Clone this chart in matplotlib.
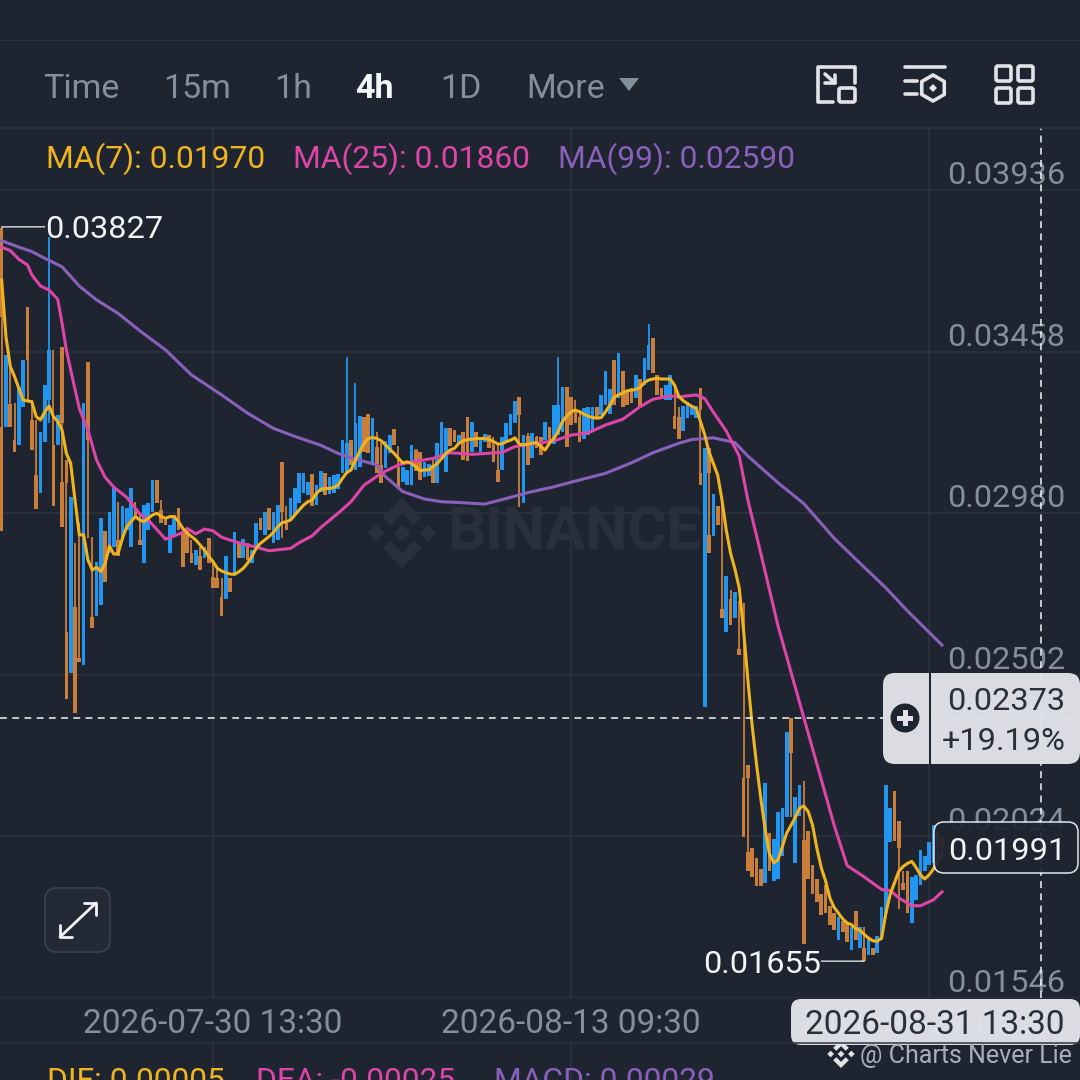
import numpy as np
import matplotlib
matplotlib.use('Agg')
import matplotlib.pyplot as plt
from matplotlib.patches import FancyBboxPatch, Polygon, Circle, Rectangle
from matplotlib.lines import Line2D

plt.rcParams['font.family'] = ['Roboto', 'DejaVu Sans']

candle_idx = [0, 0] + list(range(1, 15)) + [14, 15] + list(range(15, 163)) + [162] + [163, 164] + [164] \
    + list(range(165, 174)) + [173] + list(range(174, 219))

opens = [
    3823, 3236, 3236, 3302, 3197, 3182, 3295, 3589, 3256, 3093, 3039, 3192, 3315, 3182, 3182, 3471, 3073, 3137, 2630,
    2506, 2704, 2551, 2531, 3428, 2674, 2676, 2709, 2926, 2861, 2881, 2901, 2901, 2930, 2881, 2990, 2901, 2832, 2930,
    2985, 3078, 2990, 2960, 2863, 2911, 2995, 2926, 2926, 2861, 2827, 2852, 2847, 2906, 2792, 2787, 2733, 2725, 2787,
    2797, 2891, 2847, 2893, 2832, 2876, 2965, 2916, 2995, 2891, 2901, 3131, 2950, 2960, 2975, 3009, 3039, 3034, 3096,
    3004, 3044, 3100, 3036, 3039, 3051, 3098, 3098, 3198, 3108, 3118, 3265, 3272, 3127, 3177, 3123, 3113, 3157, 3228,
    3118, 3073, 3063, 3063, 3167, 3162, 3086, 3090, 3123, 3070, 3152, 3103, 3231, 3226, 3189, 3221, 3265, 3162, 3221,
    3162, 3192, 3211, 3182, 3108, 3108, 3187, 3211, 3246, 3323, 3011, 3208, 3142, 3206, 3206, 3196, 3236, 3184, 3211,
    3221, 3354, 3325, 3285, 3265, 3201, 3211, 3221, 3295, 3270, 3300, 3273, 3433, 3320, 3402, 3344, 3349, 3320, 3376,
    3359, 3403, 3497, 3389, 3349, 3315, 3315, 3267, 3265, 3223, 3262, 3270, 3262, 3350, 3098, 2408, 3172, 2917, 2912,
    3002, 2697, 2629, 2725, 2670, 2578, 2198, 2236, 1978, 1989, 1961, 1927, 1887, 2034, 1893, 1898, 1966, 2080, 2373,
    1944, 2085, 2012, 2040, 1938, 1898, 1855, 1881, 1817, 1797, 1717, 1774, 1768, 1689, 1802, 1695, 1695, 1672, 1695,
    1678, 1717, 1797, 2006, 2159, 2070, 1887, 1921, 1768, 1836, 1881, 1921, 1938, 1944, 2037, 2020,
]
highs = [
    3827, 3236, 3448, 3414, 3305, 3354, 3433, 3589, 3315, 3256, 3221, 3359, 3798, 3463, 3271, 3471, 3246, 3137, 3068,
    3029, 2891, 2950, 3305, 3428, 2911, 2837, 2965, 2926, 2985, 3054, 3014, 3000, 2995, 3054, 3014, 2980, 3004, 3009,
    3078, 3078, 3019, 2965, 2945, 2975, 2995, 2930, 2935, 2901, 2871, 2881, 2881, 2906, 2842, 2817, 2787, 2852, 2787,
    2923, 2891, 2903, 2893, 2871, 2950, 2965, 2985, 2995, 2985, 3004, 3131, 3000, 3024, 3054, 3098, 3098, 3073, 3096,
    3064, 3105, 3100, 3088, 3093, 3095, 3198, 3443, 3198, 3364, 3267, 3265, 3272, 3263, 3221, 3187, 3194, 3211, 3228,
    3179, 3118, 3108, 3182, 3169, 3162, 3132, 3127, 3137, 3187, 3251, 3231, 3231, 3226, 3211, 3221, 3265, 3249, 3221,
    3201, 3214, 3211, 3206, 3187, 3204, 3246, 3273, 3313, 3323, 3211, 3218, 3218, 3208, 3206, 3251, 3236, 3300, 3441,
    3354, 3354, 3325, 3315, 3285, 3290, 3295, 3293, 3295, 3330, 3402, 3346, 3433, 3453, 3402, 3344, 3349, 3389, 3376,
    3438, 3540, 3497, 3389, 3349, 3359, 3389, 3359, 3295, 3296, 3308, 3296, 3296, 3350, 3285, 3172, 3172, 3098, 3036,
    3002, 3025, 2793, 2753, 2747, 2719, 2713, 2236, 2198, 1989, 1961, 1927, 2181, 2034, 2017, 2097, 2108, 2334, 2373,
    2142, 2176, 2187, 2040, 1938, 1898, 1855, 1881, 1817, 1797, 1785, 1774, 1768, 1757, 1802, 1757, 1757, 1723, 1695,
    1729, 1814, 2176, 2108, 2159, 2070, 1921, 1921, 1904, 1910, 1983, 1966, 2006, 2057, 2037, 2020,
]
lows = [
    3236, 2926, 3236, 3236, 3162, 3182, 3295, 3315, 3167, 2992, 3039, 3192, 3246, 3000, 3182, 3246, 2940, 3068, 2430,
    2506, 2388, 2541, 2531, 2906, 2640, 2676, 2709, 2778, 2861, 2881, 2852, 2901, 2930, 2881, 2965, 2886, 2832, 2930,
    2985, 3009, 2950, 2945, 2863, 2911, 2930, 2820, 2861, 2832, 2827, 2812, 2847, 2832, 2758, 2760, 2676, 2725, 2748,
    2797, 2847, 2847, 2842, 2832, 2876, 2930, 2916, 2930, 2891, 2901, 2906, 2930, 2960, 2975, 3009, 3039, 3034, 3000,
    3004, 3044, 3034, 3036, 3039, 3051, 3098, 3098, 3123, 3108, 3118, 3162, 3157, 3127, 3098, 3070, 3113, 3157, 3182,
    3053, 3073, 3063, 3063, 3106, 3078, 3086, 3090, 3070, 3070, 3152, 3103, 3179, 3192, 3189, 3137, 3135, 3162, 3175,
    3162, 3192, 3172, 3132, 3073, 3108, 3187, 3211, 3246, 2999, 3011, 3123, 3142, 3172, 3152, 3196, 3192, 3184, 3211,
    3221, 3177, 3241, 3246, 3192, 3201, 3211, 3221, 3265, 3270, 3300, 3273, 3300, 3320, 3295, 3300, 3305, 3320, 3295,
    3359, 3403, 3394, 3330, 3325, 3315, 3315, 3228, 3201, 3223, 3262, 3270, 3262, 3285, 3064, 2408, 3098, 2863, 2912,
    2946, 2670, 2629, 2648, 2670, 2561, 2023, 2198, 1923, 1904, 1876, 1876, 1887, 1921, 1893, 1898, 1966, 2080, 2080,
    1944, 2085, 1706, 1898, 1853, 1831, 1791, 1797, 1763, 1746, 1717, 1740, 1712, 1689, 1717, 1695, 1655, 1672, 1672,
    1678, 1717, 1797, 2006, 2009, 1808, 1864, 1797, 1768, 1836, 1881, 1921, 1938, 1944, 1950, 1950,
]
closes = [
    3561, 2926, 3448, 3236, 3162, 3354, 3433, 3433, 3167, 2992, 3221, 3359, 3463, 3000, 3271, 3246, 2940, 3068, 2430,
    3029, 2388, 2541, 3305, 3197, 2640, 2837, 2965, 2778, 2985, 3054, 2852, 3000, 2995, 3054, 2965, 2886, 3004, 3009,
    3078, 3009, 2950, 2945, 2945, 2975, 2930, 2820, 2861, 2832, 2871, 2812, 2881, 2832, 2758, 2760, 2676, 2852, 2748,
    2923, 2847, 2903, 2842, 2871, 2950, 2930, 2985, 2930, 2985, 3004, 2985, 2930, 3024, 3054, 3098, 3098, 3073, 3000,
    3064, 3105, 3034, 3088, 3093, 3095, 3198, 3187, 3123, 3246, 3267, 3162, 3157, 3263, 3098, 3070, 3194, 3211, 3182,
    3053, 3118, 3108, 3182, 3106, 3078, 3132, 3127, 3070, 3187, 3251, 3231, 3179, 3192, 3211, 3137, 3135, 3249, 3175,
    3201, 3214, 3172, 3132, 3073, 3204, 3246, 3273, 3313, 3270, 3211, 3123, 3218, 3172, 3152, 3251, 3192, 3300, 3300,
    3354, 3177, 3241, 3246, 3192, 3290, 3295, 3293, 3265, 3330, 3402, 3346, 3300, 3453, 3295, 3300, 3305, 3389, 3295,
    3438, 3477, 3394, 3330, 3325, 3359, 3389, 3228, 3201, 3296, 3308, 3296, 3296, 3285, 3064, 3172, 3098, 2863, 3036,
    2946, 2670, 2793, 2648, 2747, 2561, 2023, 2198, 1923, 1904, 1876, 1876, 2181, 1921, 2017, 2097, 2108, 2334, 2272,
    2142, 2176, 1706, 1898, 1853, 1831, 1791, 1797, 1763, 1746, 1785, 1740, 1712, 1757, 1717, 1757, 1655, 1723, 1672,
    1729, 1814, 2176, 2108, 2009, 1989, 1864, 1797, 1904, 1910, 1983, 1966, 2006, 2057, 2000, 1991,
]

ma7 = [
    3670, 3502, 3414, 3384, 3349, 3315, 3312, 3310, 3266, 3256, 3280, 3297, 3266, 3251, 3226, 3157, 3128, 3019, 2916, 2916,
    2842, 2812, 2820, 2807, 2832, 2883, 2859, 2861, 2906, 2940, 2955, 2970, 2960, 2955, 2965, 2975, 2980, 2970, 2965, 2970,
    2970, 2955, 2935, 2921, 2911, 2901, 2886, 2871, 2852, 2837, 2817, 2809, 2804, 2800, 2799, 2807, 2817, 2832, 2852, 2876,
    2891, 2901, 2911, 2923, 2940, 2952, 2955, 2960, 2975, 2990, 3004, 3014, 3019, 3039, 3051, 3053, 3053, 3056, 3063, 3083,
    3100, 3108, 3137, 3162, 3187, 3201, 3204, 3201, 3194, 3182, 3169, 3157, 3142, 3129, 3132, 3127, 3118, 3106, 3108, 3108,
    3118, 3127, 3142, 3157, 3167, 3172, 3187, 3194, 3198, 3199, 3201, 3201, 3201, 3198, 3192, 3185, 3185, 3192, 3196, 3203,
    3184, 3182, 3184, 3187, 3189, 3177, 3167, 3187, 3201, 3221, 3251, 3267, 3280, 3285, 3280, 3273, 3267, 3263, 3261, 3263,
    3280, 3300, 3323, 3330, 3336, 3342, 3344, 3346, 3352, 3366, 3374, 3377, 3379, 3377, 3377, 3377, 3359, 3325, 3313, 3304,
    3296, 3291, 3251, 3212, 3161, 3127, 3093, 3019, 2929, 2861, 2815, 2759, 2634, 2487, 2351, 2238, 2136, 2046, 1972, 1946,
    1955, 1995, 2034, 2057, 2080, 2108, 2114, 2097, 2057, 1989, 1932, 1893, 1842, 1814, 1797, 1780, 1768, 1763, 1751, 1746,
    1734, 1723, 1715, 1714, 1723, 1797, 1853, 1887, 1921, 1935, 1944, 1950, 1932, 1910, 1898, 1910, 1927, 1955, 1970,
]

ma25_idx = [0, 2, 4, 6, 7, 9, 11, 13, 14, 15, 16, 18, 20, 22, 24, 26, 29, 32, 34, 38, 42, 43, 45, 47, 49, 51, 54, 57, 60,
            62, 67, 69, 72, 74, 78, 81, 84, 88, 92, 95, 100, 104, 109, 116, 119, 124, 128, 132, 136, 140, 144, 148, 151,
            155, 157, 161, 163, 165, 168, 171, 173, 176, 180, 183, 186, 190, 193, 196, 200, 204, 206, 208, 211, 213, 216,
            218]
ma25 = [3767, 3757, 3731, 3714, 3685, 3652, 3640, 3613, 3542, 3463, 3404, 3290, 3226, 3137, 3086, 3057, 3027, 2978, 2960,
        2903, 2923, 2935, 2919, 2933, 2928, 2909, 2896, 2886, 2876, 2869, 2876, 2893, 2913, 2938, 2980, 3014, 3063, 3098,
        3123, 3132, 3142, 3159, 3154, 3160, 3177, 3187, 3194, 3211, 3218, 3241, 3258, 3295, 3317, 3327, 3324, 3330, 3319,
        3279, 3223, 3149, 3019, 2861, 2646, 2510, 2374, 2193, 2057, 1938, 1904, 1867, 1864, 1842, 1819, 1819, 1836, 1860]

ma99_idx = [0, 4, 7, 10, 14, 18, 22, 27, 32, 38, 44, 51, 57, 63, 68, 74, 78, 82, 87, 89, 93, 98, 102, 107, 112, 115, 118,
            122, 128, 133, 140, 146, 151, 157, 160, 165, 170, 173, 180, 186, 193, 199, 205, 210, 218]
ma99 = [3786, 3767, 3754, 3734, 3709, 3652, 3611, 3571, 3520, 3463, 3389, 3330, 3276, 3231, 3207, 3181, 3157, 3140, 3123,
        3088, 3044, 3022, 3014, 3011, 3007, 3017, 3027, 3041, 3058, 3075, 3098, 3129, 3159, 3187, 3198, 3203, 3189, 3149,
        3070, 3008, 2906, 2832, 2759, 2691, 2590]

price_ticks = [0.03936, 0.03458, 0.02980, 0.02502, 0.02024, 0.01546]
time_tick_idx = [49, 132, 215]
time_tick_labels = ['2026-07-30 13:30', '2026-08-13 09:30', '2026-08-27 05:30']
nav_labels = ['Time', '15m', '1h', '4h', '1D', 'More']
ma_labels = ['MA(7): 0.01970', 'MA(25): 0.01860', 'MA(99): 0.02590']
macd_labels = ['DIF: 0.00005', 'DEA: -0.00025', 'MACD: 0.00029']
high_price = 0.03827
low_price = 0.01655
high_idx = 0
low_idx = 200
cross_price = 0.02373
cross_idx = 241
last_price = '0.01991'

BG = '#1F2530'
GRID = '#2D343F'
UP = '#2196F0'
DOWN = '#C97F3A'
GOLD = '#F0B41E'
PINK = '#DD45A8'
PURPLE = '#8A60BC'
GRAY = '#848E9C'
PALE = '#E1E3E8'
WHITE = '#F2F4F6'
FS = 23.4

fig = plt.figure(figsize=(10.8, 10.8), dpi=100, facecolor=BG)

# main panel spans pixel rows 128 to 998
ax = fig.add_axes([0, 82 / 1080, 1, 870 / 1080], facecolor=BG, zorder=1)
ax.set_xlim(-0.385, 250.0)
ax.set_ylim(0.01546, 0.01546 + 870 * 0.00002958)
for s in ax.spines.values():
    s.set_visible(False)
ax.set_axisbelow(True)
ax.grid(True, color=GRID, lw=1.1)
ax.set_yticks(price_ticks)
ax.set_yticklabels(['%.5f' % p for p in price_ticks], color=GRAY, fontsize=FS, ha='right', va='bottom')
ax.yaxis.tick_right()
ax.tick_params(axis='y', length=0, pad=-10.5)
ax.set_xticks(time_tick_idx)
ax.set_xticklabels(time_tick_labels, color=GRAY, fontsize=24)
ax.tick_params(axis='x', length=0, pad=7)

o = np.array(opens) / 1e5
h = np.array(highs) / 1e5
l = np.array(lows) / 1e5
c = np.array(closes) / 1e5
x = np.array(candle_idx)
colors = [UP if cl >= op else DOWN for op, cl in zip(o, c)]
ax.vlines(x, l, h, colors=colors, lw=1.3, zorder=2)
ax.bar(x, np.abs(c - o), bottom=np.minimum(o, c), width=0.85, color=colors, lw=0, zorder=2)

ax.plot(ma99_idx, np.array(ma99) / 1e5, color=PURPLE, lw=2.2, zorder=3)
ax.plot(ma25_idx, np.array(ma25) / 1e5, color=PINK, lw=2.2, zorder=3)
ax.plot(range(len(ma7)), np.array(ma7) / 1e5, color=GOLD, lw=2.2, zorder=4)

# high and low markers: a flat leader and the price beside it
for price, idx, off, align in [(high_price, high_idx, 31, 'left'), (low_price, low_idx, -31, 'right')]:
    ax.annotate('', xy=(idx, price), xytext=(off, 0), textcoords=('offset points'),
                arrowprops=dict(arrowstyle='-', color=WHITE, lw=0.9, shrinkA=0, shrinkB=0), zorder=5)
    ax.annotate('%.5f' % price, xy=(idx, price), xytext=(off, 0), textcoords='offset points',
                color=WHITE, fontsize=FS, va='center_baseline', ha=align, zorder=5)

# crosshair
ax.axhline(cross_price, color=WHITE, lw=1.1, ls=(0, (4.5, 3.5)), zorder=5)
ax.axvline(cross_idx, color=WHITE, lw=1.1, ls=(0, (4.5, 3.5)), zorder=5)
ax.plot([cross_idx], [cross_price], 'o', color=WHITE, ms=12, alpha=0.15, mew=0, zorder=5)

# screen chrome, in pixel coordinates
ui = fig.add_axes([0, 0, 1, 1], facecolor='none', zorder=2)
ui.set_xlim(0, 1080)
ui.set_ylim(1080, 0)
ui.axis('off')


def binance_mark(cx, cy, r, color):
    # centre and side diamonds, chevrons above and below
    for dx, dy in [(-0.74, 0), (0.74, 0), (0, 0)]:
        px, py = cx + dx * r, cy + dy * r
        s = r * 0.24
        ui.add_patch(Polygon([(px - s, py), (px, py - s), (px + s, py), (px, py + s)], color=color, lw=0))
    chev = np.array([(0, -1), (0.56, -0.44), (0.33, -0.23), (0, -0.56), (-0.33, -0.23), (-0.56, -0.44)])
    for sign in [1, -1]:
        ui.add_patch(Polygon(np.c_[cx + chev[:, 0] * r, cy + sign * chev[:, 1] * r], color=color, lw=0))


def stroke(xs, ys, color=PALE, lw=2.6):
    ui.add_line(Line2D(xs, ys, color=color, lw=lw, solid_capstyle='round', solid_joinstyle='round'))


def round_box(x0, y0, x1, y1, r, **kw):
    ui.add_patch(FancyBboxPatch((x0 + r, y0 + r), x1 - x0 - 2 * r, y1 - y0 - 2 * r,
                                boxstyle='round,pad=%d,rounding_size=%d' % (r, r), **kw))


# watermark
binance_mark(402, 533, 35, '#2A303B')
ui.text(447, 534, 'BINANCE', color='#2A303B', fontsize=43, weight='bold', va='center', ha='left', zorder=0)

# header rows
stroke([0, 1080], [40, 40], GRID, 0.9)
stroke([0, 1080], [128, 128], GRID, 1.1)
for label, px in zip(nav_labels, [43, 163, 274, 355, 440, 526]):
    active = label == '4h'
    ui.text(px, 86, label, color=WHITE if active else GRAY, fontsize=24.5, weight='bold' if active else 'normal',
            va='center_baseline', ha='left')
ui.add_patch(Polygon([(619, 78), (639, 78), (629, 91)], color=GRAY, lw=0))

# icon: resize
stroke([833, 818, 818, 855, 855], [102, 102, 67, 67, 83])
ui.add_patch(FancyBboxPatch((841, 90), 12, 10, boxstyle='round,pad=2,rounding_size=2', fc='none', ec=PALE, lw=2.6))
stroke([825, 835], [74, 83])
stroke([825, 835, 835], [83, 83, 75])
# icon: settings
stroke([905, 945], [67, 67])
stroke([905, 917], [81, 81])
stroke([905, 917], [94, 94])
hex_angles = np.deg2rad([30, 90, 150, 210, 270, 330])
ui.add_patch(Polygon(np.c_[933 + 13 * np.cos(hex_angles), 88 + 13 * np.sin(hex_angles)], fc='none', ec=PALE, lw=2.6,
                     joinstyle='round'))
ui.add_patch(Polygon([(929, 88), (933, 84), (937, 88), (933, 92)], color=PALE, lw=0))
# icon: grid
for ix in [996, 1018]:
    for iy in [66, 88]:
        ui.add_patch(FancyBboxPatch((ix + 2, iy + 2), 11, 11, boxstyle='round,pad=2,rounding_size=2', fc='none',
                                    ec=PALE, lw=2.6))

# MA legend
for label, px, col in zip(ma_labels, [46, 293, 558], [GOLD, PINK, PURPLE]):
    ui.text(px, 155, label, color=col, fontsize=22.9, va='center_baseline', ha='left')

# expand button
round_box(45, 888, 110, 952, 12, fc='#232A35', ec='#3A414D', lw=1.3)
stroke([60, 96], [937, 903], WHITE, 2)
stroke([84, 96, 96], [903, 903, 915], WHITE, 2)
stroke([60, 60, 72], [925, 937, 937], WHITE, 2)

# crosshair price tag
round_box(883, 673, 1080, 764, 12, fc=PALE, ec='none', alpha=0.97)
ui.add_patch(Rectangle((928.5, 673), 2.2, 91, color=BG, lw=0))
ui.add_patch(Circle((905, 718), 14.5, color=BG, lw=0))
ui.add_patch(Rectangle((897, 716), 16, 5, color=PALE, lw=0))
ui.add_patch(Rectangle((902.5, 710), 5, 16, color=PALE, lw=0))
ui.text(1065, 699, '%.5f' % cross_price, color='#2A303A', fontsize=FS, ha='right', va='center_baseline')
ui.text(1066, 739, '+19.19%', color='#2A303A', fontsize=FS, ha='right', va='center_baseline')

# last price tag
round_box(934, 822, 1078, 873, 10, fc=BG, ec=WHITE, lw=1.1, alpha=0.93)
ui.text(1007, 848, last_price, color=WHITE, fontsize=FS, ha='center', va='center_baseline')

# time panel
stroke([0, 1080], [1043, 1043], GRID, 1.1)
for px in [213, 571]:
    stroke([px, px], [1043, 1080], GRID, 1.1)
round_box(791, 999, 1080, 1045, 10, fc=PALE, ec='none', alpha=0.97)
ui.text(935, 1022, '2026-08-31 13:30', color='#2A303A', fontsize=24, ha='center', va='center_baseline')

# signature
binance_mark(841, 1054, 14, PALE)
ui.text(860, 1054, '@ Charts Never Lie', color='#A9AFB8', fontsize=18, ha='left', va='center_baseline')

# MACD row, cut by the bottom edge
for label, px, col in zip(macd_labels, [47, 256, 494], [GOLD, PINK, PURPLE]):
    ui.text(px, 1067, label, color=col, fontsize=22.9, ha='left', va='top')

fig.savefig('out.png', dpi=100, facecolor=BG)
